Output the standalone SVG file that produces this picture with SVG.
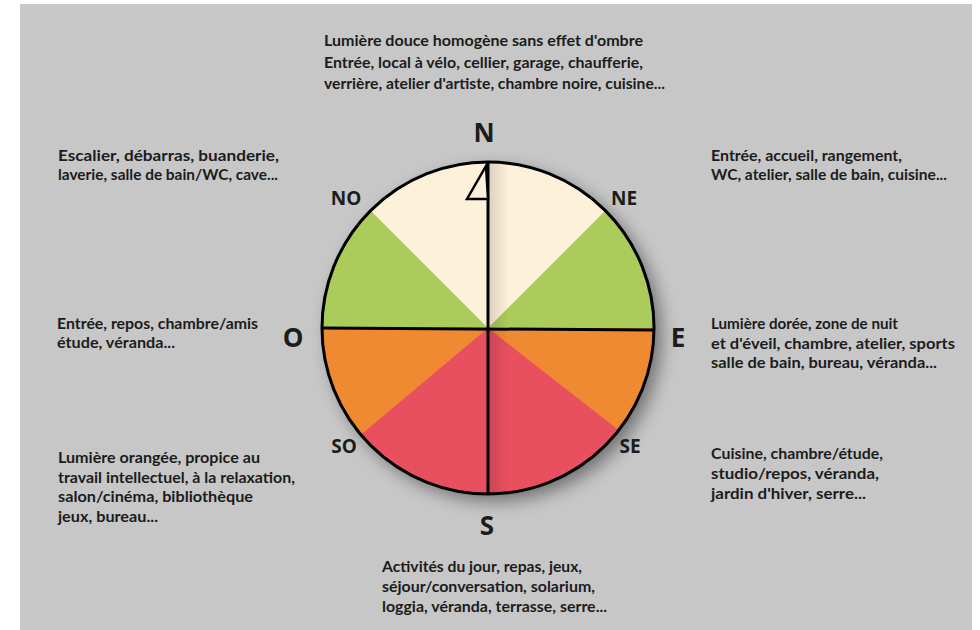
<svg xmlns="http://www.w3.org/2000/svg" width="980" height="630" viewBox="0 0 980 630">
<defs>
<style>
.t{font-family:Lato,"Open Sans","Liberation Sans",sans-serif;font-weight:700;font-size:16px;fill:#1c1c1c}
.d{font-family:"Open Sans",Lato,"Liberation Sans",sans-serif;font-weight:700;fill:#1c1c1c}
.ln{stroke:#000;stroke-width:3;fill:none}
</style>
<filter id="sh" x="-30%" y="-30%" width="160%" height="160%">
<feGaussianBlur in="SourceAlpha" stdDeviation="9"/>
<feOffset dx="7" dy="7" result="b"/>
<feComponentTransfer><feFuncA type="linear" slope="0.45"/></feComponentTransfer>
<feMerge><feMergeNode/><feMergeNode in="SourceGraphic"/></feMerge>
</filter>
<linearGradient id="sd" x1="0" y1="0" x2="1" y2="0">
<stop offset="0" stop-color="#000" stop-opacity="0.13"/>
<stop offset="1" stop-color="#000" stop-opacity="0"/>
</linearGradient>
<clipPath id="cc"><circle cx="488" cy="328" r="166"/></clipPath>
</defs>
<rect width="980" height="630" fill="#fff"/>
<rect x="20" y="4" width="952" height="626" fill="#c7c7c7"/>

<g id="compass">
<circle cx="488" cy="328" r="166" fill="#ef8a30" filter="url(#sh)"/>
<path d="M322,328 A166,166 0 0 1 654,328 Z" fill="#abcb5a"/>
<path d="M488,328 L370.6,210.6 A166,166 0 0 1 605.4,210.6 Z" fill="#fdf1da"/>
<path d="M488,328 L618.8,430.2 A166,166 0 0 1 360.8,434.7 Z" fill="#e9505f"/>
<rect x="489" y="160" width="20" height="340" fill="url(#sd)" clip-path="url(#cc)"/>
<circle cx="488" cy="328" r="166" class="ln"/>
<line x1="322" y1="328" x2="654" y2="330" class="ln"/>
<line x1="488" y1="162" x2="488" y2="495" class="ln"/>
<polygon points="486,166 467,199 488,199" fill="#fdf1da" stroke="#000" stroke-width="2.5"/>
</g>

<g id="directions">
<text class="d" x="484" y="142" font-size="26" text-anchor="middle">N</text>
<text class="d" x="346" y="205" font-size="19" text-anchor="middle">NO</text>
<text class="d" x="624" y="205" font-size="19" text-anchor="middle">NE</text>
<text class="d" x="293" y="347" font-size="26" text-anchor="middle">O</text>
<text class="d" x="678" y="347" font-size="26" text-anchor="middle">E</text>
<text class="d" x="344" y="453" font-size="19" text-anchor="middle">SO</text>
<text class="d" x="630" y="453" font-size="19" text-anchor="middle">SE</text>
<text class="d" x="487" y="535" font-size="26" text-anchor="middle">S</text>
</g>

<g id="label-n">
<text class="t" x="324" y="46" textLength="319" lengthAdjust="spacingAndGlyphs">Lumière douce homogène sans effet d'ombre</text>
<text class="t" x="324" y="68" textLength="319" lengthAdjust="spacingAndGlyphs">Entrée, local à vélo, cellier, garage, chaufferie,</text>
<text class="t" x="324" y="89" textLength="341" lengthAdjust="spacingAndGlyphs">verrière, atelier d'artiste, chambre noire, cuisine...</text>
</g>
<g id="label-no">
<text class="t" x="58" y="161" textLength="221" lengthAdjust="spacingAndGlyphs">Escalier, débarras, buanderie,</text>
<text class="t" x="58" y="180" textLength="220" lengthAdjust="spacingAndGlyphs">laverie, salle de bain/WC, cave...</text>
</g>
<g id="label-ne">
<text class="t" x="711" y="161" textLength="191" lengthAdjust="spacingAndGlyphs">Entrée, accueil, rangement,</text>
<text class="t" x="711" y="180" textLength="236" lengthAdjust="spacingAndGlyphs">WC, atelier, salle de bain, cuisine...</text>
</g>
<g id="label-o">
<text class="t" x="57" y="329" textLength="201" lengthAdjust="spacingAndGlyphs">Entrée, repos, chambre/amis</text>
<text class="t" x="57" y="348" textLength="118" lengthAdjust="spacingAndGlyphs">étude, véranda...</text>
</g>
<g id="label-e">
<text class="t" x="711" y="329" textLength="187" lengthAdjust="spacingAndGlyphs">Lumière dorée, zone de nuit</text>
<text class="t" x="711" y="349" textLength="244" lengthAdjust="spacingAndGlyphs">et d'éveil, chambre, atelier, sports</text>
<text class="t" x="711" y="368" textLength="226" lengthAdjust="spacingAndGlyphs">salle de bain, bureau, véranda...</text>
</g>
<g id="label-so">
<text class="t" x="58" y="463" textLength="202" lengthAdjust="spacingAndGlyphs">Lumière orangée, propice au</text>
<text class="t" x="58" y="483" textLength="237" lengthAdjust="spacingAndGlyphs">travail intellectuel, à la relaxation,</text>
<text class="t" x="58" y="502" textLength="195" lengthAdjust="spacingAndGlyphs">salon/cinéma, bibliothèque</text>
<text class="t" x="58" y="522" textLength="100" lengthAdjust="spacingAndGlyphs">jeux, bureau...</text>
</g>
<g id="label-se">
<text class="t" x="711" y="459" textLength="172" lengthAdjust="spacingAndGlyphs">Cuisine, chambre/étude,</text>
<text class="t" x="711" y="479" textLength="168" lengthAdjust="spacingAndGlyphs">studio/repos, véranda,</text>
<text class="t" x="711" y="499" textLength="155" lengthAdjust="spacingAndGlyphs">jardin d'hiver, serre...</text>
</g>
<g id="label-s">
<text class="t" x="382" y="572" textLength="200" lengthAdjust="spacingAndGlyphs">Activités du jour, repas, jeux,</text>
<text class="t" x="382" y="592" textLength="213" lengthAdjust="spacingAndGlyphs">séjour/conversation, solarium,</text>
<text class="t" x="382" y="612" textLength="225" lengthAdjust="spacingAndGlyphs">loggia, véranda, terrasse, serre...</text>
</g>
</svg>
